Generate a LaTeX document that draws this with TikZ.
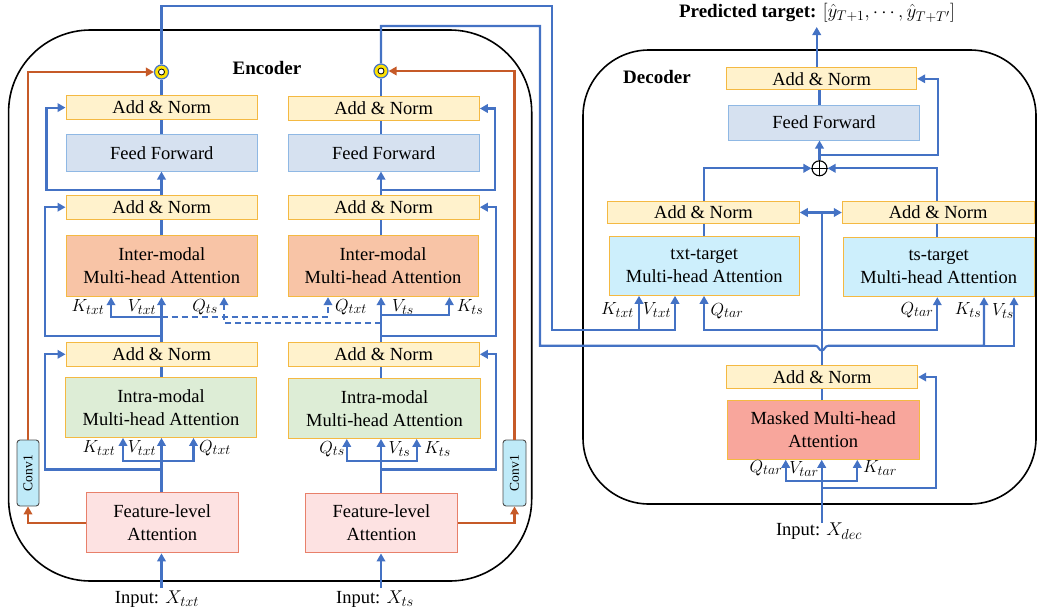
\RequirePackage{fix-cm}
\documentclass[tikz,border=0pt]{standalone}
\usepackage{fontspec}
\setmainfont{Liberation Serif}
\usetikzlibrary{arrows.meta}
\DeclareMathSizes{17.5}{17.5}{14}{11}
\DeclareMathSizes{18.5}{18.5}{14.5}{11}
\DeclareMathSizes{19}{19}{14}{11}
\definecolor{blueC}{HTML}{4472C4}
\definecolor{orC}{HTML}{C65A28}
\definecolor{ybord}{HTML}{F4B942}
\definecolor{anfill}{HTML}{FFF2CC}
\definecolor{fffill}{HTML}{D6E1F0}
\definecolor{ffbord}{HTML}{8FB8E4}
\definecolor{interfill}{HTML}{F8C4A6}
\definecolor{intrafill}{HTML}{DDEDD6}
\definecolor{featfill}{HTML}{FDE2E2}
\definecolor{featbord}{HTML}{E8806A}
\definecolor{tgtfill}{HTML}{CDEFFC}
\definecolor{maskfill}{HTML}{F8A69C}
\definecolor{convfill}{HTML}{BFEAF8}
\newcommand{\boxfont}{\fontsize{18.5}{23}\selectfont}
\newcommand{\lblfont}{\fontsize{17.5}{20}\selectfont}
\tikzset{
  bx/.style={rectangle, draw=ybord, line width=1pt, inner sep=0pt, align=center, font=\boxfont},
  an/.style={bx, fill=anfill},
  ffbox/.style={bx, fill=fffill, draw=ffbord},
  interbox/.style={bx, fill=interfill},
  intrabox/.style={bx, fill=intrafill},
  featbox/.style={bx, fill=featfill, draw=featbord},
  tgtbox/.style={bx, fill=tgtfill},
  maskbox/.style={bx, fill=maskfill},
  convbox/.style={rectangle, rounded corners=3pt, draw=black!70, fill=convfill, line width=0.9pt, inner sep=0pt, font=\fontsize{13.5}{15}\selectfont},
  bl/.style={draw=blueC, line width=2.1pt},
  orl/.style={draw=orC, line width=2.1pt},
  arrowed/.style={-{Triangle[length=8pt,width=8.5pt]}},
  lbl/.style={inner sep=0pt, font=\lblfont},
  ring/.style={circle, draw=blueC, fill=yellow!85!orange, line width=1.2pt, minimum size=14pt, inner sep=0pt},
  frame/.style={draw=black, line width=1.6pt},
  dsh/.style={dash pattern=on 6pt off 4pt}
}
\def\LX{161.5}
\def\RX{381}
\def\DX{821.7}
\begin{document}
\begin{tikzpicture}[x=1pt,y=-1pt]
\useasboundingbox (0,0) rectangle (1038,613);
% frames
\draw[frame, rounded corners=82pt] (8.6,30) rectangle (531.7,581);
\draw[frame, rounded corners=66pt] (583,50) rectangle (1036,504);
\node[font=\fontsize{19}{22}\selectfont\bfseries, inner sep=0pt] (enc) at (267,68) {Encoder};
\node[font=\fontsize{19}{22}\selectfont\bfseries, inner sep=0pt] (dec) at (657,77) {Decoder};
\node[inner sep=0pt, font=\fontsize{19}{22}\selectfont] (pred) at (817,13) {\textbf{Predicted target:} $[\hat{y}_{T+1},\cdots,\hat{y}_{T+T'}]$};

% left column
\node[an, minimum width=191.6pt, minimum height=24.4pt] (lan1) at (161.8,107.6) {Add \& Norm};
\node[ffbox, minimum width=191.6pt, minimum height=36.7pt] (lff) at (161.8,152.7) {Feed Forward};
\node[an, minimum width=191.6pt, minimum height=24.3pt] (lan2) at (161.8,207.2) {Add \& Norm};
\node[interbox, minimum width=191.6pt, minimum height=61.2pt] (linter) at (161.8,266.1) {Inter-modal\\Multi-head Attention};
\node[an, minimum width=191.6pt, minimum height=23.8pt] (lan3) at (161.8,354.3) {Add \& Norm};
\node[intrabox, minimum width=191.1pt, minimum height=60.2pt] (lintra) at (161,407.3) {Intra-modal\\Multi-head Attention};
\node[featbox, minimum width=152.2pt, minimum height=59.9pt] (lfeat) at (162.2,522.9) {Feature-level\\Attention};
\node[convbox, minimum width=22pt, minimum height=66pt] (lconv) at (28,473) {\rotatebox{90}{Conv1}};
\node[ring] (lc) at (\LX,72) {};
\fill[white, draw=black, line width=0.8pt] (lc.center) circle (3pt);
\node[inner sep=0pt, font=\fontsize{18.5}{21}\selectfont] (inl) at (157,599) {Input: $X_{txt}$};

% right column
\node[an, minimum width=191.3pt, minimum height=24.1pt] (ran1) at (383.7,108.5) {Add \& Norm};
\node[ffbox, minimum width=191.3pt, minimum height=36.7pt] (rff) at (383.7,152.7) {Feed Forward};
\node[an, minimum width=191.3pt, minimum height=24.3pt] (ran2) at (383.7,207.2) {Add \& Norm};
\node[interbox, minimum width=190pt, minimum height=61.2pt] (rinter) at (383,266.1) {Inter-modal\\Multi-head Attention};
\node[an, minimum width=191.3pt, minimum height=23.8pt] (ran3) at (383.7,354.3) {Add \& Norm};
\node[intrabox, minimum width=191.8pt, minimum height=60.3pt] (rintra) at (384.5,408.3) {Intra-modal\\Multi-head Attention};
\node[featbox, minimum width=151.5pt, minimum height=59.9pt] (rfeat) at (381.5,523) {Feature-level\\Attention};
\node[convbox, minimum width=23pt, minimum height=66pt] (rconv) at (514.5,473) {\rotatebox{90}{Conv1}};
\node[ring] (rc) at (\RX,71) {};
\fill[white, draw=black, line width=0.8pt] (rc.center) circle (3pt);
\node[inner sep=0pt, font=\fontsize{18.5}{21}\selectfont] (inr) at (375,599) {Input: $X_{ts}$};

% encoder labels
\node[lbl] (k1) at (88,307) {$K_{txt}$};
\node[lbl] (v1) at (142,307) {$V_{txt}$};
\node[lbl] (q1) at (205,307) {$Q_{ts}$};
\node[lbl] (q2) at (351,307) {$Q_{txt}$};
\node[lbl] (v2) at (403,307) {$V_{ts}$};
\node[lbl] (k2) at (470,307) {$K_{ts}$};
\node[lbl] (k3) at (99,448) {$K_{txt}$};
\node[lbl] (v3) at (142,448) {$V_{txt}$};
\node[lbl] (q3) at (215,448) {$Q_{txt}$};
\node[lbl] (q4) at (332,449) {$Q_{ts}$};
\node[lbl] (v4) at (399.5,449) {$V_{ts}$};
\node[lbl] (k4) at (437.5,449) {$K_{ts}$};

% decoder nodes
\node[an, minimum width=190pt, minimum height=22.3pt] (dan1) at (821.7,78.8) {Add \& Norm};
\node[ffbox, minimum width=190.6pt, minimum height=35pt] (dff) at (824,122.5) {Feed Forward};
\node[circle, draw=black, line width=1.1pt, minimum size=15pt, inner sep=0pt] (plus) at (819.5,168.3) {};
\draw[black, line width=1.1pt] (plus.north) -- (plus.south) (plus.west) -- (plus.east);
\node[an, minimum width=191.6pt, minimum height=22.6pt] (tan) at (703.5,212.5) {Add \& Norm};
\node[tgtbox, minimum width=190.3pt, minimum height=58.6pt] (tatt) at (704.2,266) {txt-target\\Multi-head Attention};
\node[an, minimum width=191.7pt, minimum height=22.6pt] (san) at (938.2,212.5) {Add \& Norm};
\node[tgtbox, minimum width=190.7pt, minimum height=59pt] (satt) at (938.7,267.2) {ts-target\\Multi-head Attention};
\node[an, minimum width=191pt, minimum height=22.6pt] (dan2) at (822.2,377) {Add \& Norm};
\node[maskbox, minimum width=191.7pt, minimum height=58.6pt] (mask) at (823.2,430) {Masked Multi-head\\Attention};
\node[inner sep=0pt, font=\fontsize{18.5}{21}\selectfont] (ind) at (819,531) {Input: $X_{dec}$};

\node[lbl] (dk1) at (617.5,310) {$K_{txt}$};
\node[lbl] (dv1) at (657,310) {$V_{txt}$};
\node[lbl] (dq1) at (727,311) {$Q_{tar}$};
\node[lbl] (dq2) at (917,310) {$Q_{tar}$};
\node[lbl] (dk2) at (968,310) {$K_{ts}$};
\node[lbl] (dv2) at (1003,311) {$V_{ts}$};
\node[lbl] (mq) at (766,468) {$Q_{tar}$};
\node[lbl] (mv) at (804,469) {$V_{tar}$};
\node[lbl] (mk) at (880,468) {$K_{tar}$};

% ---------- left column connectors
\draw[bl,arrowed] (\LX,588) -- (\LX,0 |- lfeat.south);
\draw[bl,arrowed] (\LX,0 |- lfeat.north) -- (\LX,0 |- lintra.south);
\draw[bl,arrowed] (\LX,461) -| (123,0 |- lintra.south);
\draw[bl,arrowed] (\LX,461) -| (193.5,0 |- lintra.south);
\draw[bl,arrowed] (\LX,469.5) -| (44.8,0 |- lan3.west) -- (lan3.west);
\draw[bl] (\LX,0 |- lintra.north) -- (\LX,0 |- lan3.south);
\draw[bl,arrowed] (\LX,0 |- lan3.north) -- (\LX,0 |- linter.south);
\draw[bl,arrowed] (\LX,316.7) -| (111,0 |- linter.south);
\draw[bl,dsh,arrowed] (\LX,316.7) -| (328,0 |- rinter.south);
\draw[bl,arrowed] (\LX,335.7) -| (44.8,0 |- lan2.west) -- (lan2.west);
\draw[bl] (\LX,0 |- linter.north) -- (\LX,0 |- lan2.south);
\draw[bl,arrowed] (\LX,0 |- lan2.north) -- (\LX,0 |- lff.south);
\draw[bl,arrowed] (\LX,190.4) -| (46.5,0 |- lan1.west) -- (lan1.west);
\draw[bl] (\LX,0 |- lff.north) -- (\LX,0 |- lan1.south);
\draw[bl] (\LX,0 |- lan1.north) -- (lc.south);
\draw[bl,arrowed] (lc.north) |- (552,6) |- (639,330) -- (639,0 |- tatt.south);
\draw[bl,arrowed] (639,330) -| (675,0 |- tatt.south);

% ---------- right column connectors
\draw[bl,arrowed] (\RX,588) -- (\RX,0 |- rfeat.south);
\draw[bl,arrowed] (\RX,0 |- rfeat.north) -- (\RX,0 |- rintra.south);
\draw[bl,arrowed] (\RX,461) -| (346.8,0 |- rintra.south);
\draw[bl,arrowed] (\RX,461) -| (416.7,0 |- rintra.south);
\draw[bl,arrowed] (\RX,469.5) -| (495.9,0 |- ran3.east) -- (ran3.east);
\draw[bl] (\RX,0 |- rintra.north) -- (\RX,0 |- ran3.south);
\draw[bl,arrowed] (\RX,0 |- ran3.north) -- (\RX,0 |- rinter.south);
\draw[bl,arrowed] (\RX,315) -| (449.4,0 |- rinter.south);
\draw[bl,dsh,arrowed] (\RX,322.7) -| (224,0 |- linter.south);
\draw[bl,arrowed] (\RX,335.7) -| (495.9,0 |- ran2.east) -- (ran2.east);
\draw[bl] (\RX,0 |- rinter.north) -- (\RX,0 |- ran2.south);
\draw[bl,arrowed] (\RX,0 |- ran2.north) -- (\RX,0 |- rff.south);
\draw[bl,arrowed] (\RX,190.4) -| (494.8,0 |- ran1.east) -- (ran1.east);
\draw[bl] (\RX,0 |- rff.north) -- (\RX,0 |- ran1.south);
\draw[bl] (\RX,0 |- ran1.north) -- (rc.south);
\draw[bl,arrowed] (rc.north) |- (540,26) |- (815,345.7)
   .. controls (819,345.7) and (818.5,350.5) .. (\DX,350.5)
   .. controls (825,350.5) and (824.5,345.7) .. (828.5,345.7)
   -- (984,345.7) -- (984,0 |- satt.south);
\draw[bl,arrowed] (984,345.7) -| (1014,0 |- satt.south);

% orange conv paths
\draw[orl,arrowed] (lfeat.west) -| (lconv.south);
\draw[orl,arrowed] (lconv.north) |- (lc.west);
\draw[orl,arrowed] (rfeat.east) -| (rconv.south);
\draw[orl,arrowed] (rconv.north) |- (rc.east);

% ---------- decoder connectors
\draw[bl,arrowed] (ind.north -| \DX,0) -- (\DX,0 |- mask.south);
\draw[bl,arrowed] (\DX,481) -| (785.7,0 |- mask.south);
\draw[bl,arrowed] (\DX,481) -| (857.3,0 |- mask.south);
\draw[bl,arrowed] (\DX,487.7) -| (935.7,0 |- dan2.east) -- (dan2.east);
\draw[bl] (\DX,0 |- mask.north) -- (\DX,0 |- dan2.south);
\draw[bl] (\DX,0 |- dan2.north) -- (\DX,0 |- tan.east);
\draw[bl,arrowed] (\DX,0 |- tan.east) -- (tan.east);
\draw[bl,arrowed] (\DX,0 |- san.west) -- (san.west);
\draw[bl,arrowed] (\DX,330) -| (704,0 |- tatt.south);
\draw[bl,arrowed] (\DX,330) -| (937.3,0 |- satt.south);
\draw[bl] (704,0 |- tatt.north) -- (704,0 |- tan.south);
\draw[bl] (937.3,0 |- satt.north) -- (937.3,0 |- san.south);
\draw[bl,arrowed] (704,0 |- tan.north) |- (plus.west);
\draw[bl,arrowed] (937.3,0 |- san.north) |- (plus.east);
\draw[bl,arrowed] (plus.north) -- (plus.north |- dff.south);
\draw[bl,arrowed] (819.5,155) -| (938.3,0 |- dan1.east) -- (dan1.east);
\draw[bl] (819.5,0 |- dff.north) -- (819.5,0 |- dan1.south);
\coordinate (outp) at (816.7,27);
\draw[bl,arrowed] (816.7,0 |- dan1.north) -- (outp);
\end{tikzpicture}
\end{document}
